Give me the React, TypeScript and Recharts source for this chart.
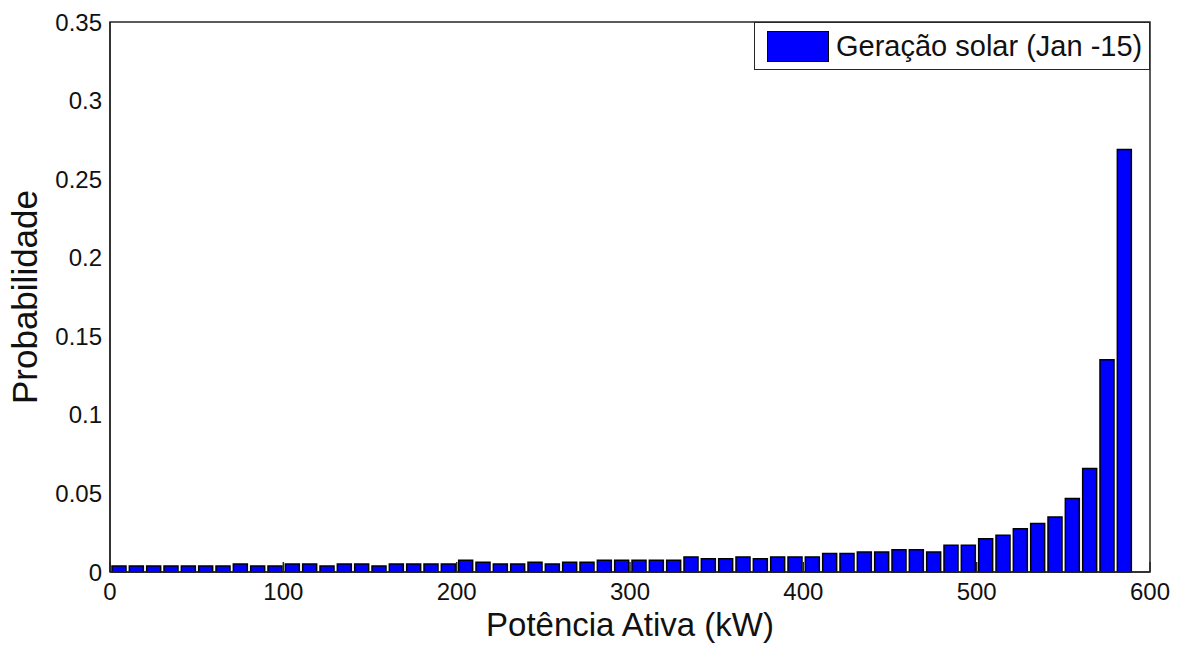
import { BarChart, Bar, XAxis, YAxis, ReferenceArea } from 'recharts';

// bin centres (kW)
const potencia = [
  5, 15, 25, 35, 45, 55, 65, 75, 85, 95,
  105, 115, 125, 135, 145, 155, 165, 175, 185, 195,
  205, 215, 225, 235, 245, 255, 265, 275, 285, 295,
  305, 315, 325, 335, 345, 355, 365, 375, 385, 395,
  405, 415, 425, 435, 445, 455, 465, 475, 485, 495,
  505, 515, 525, 535, 545, 555, 565, 575, 585,
];

const probabilidade = [
  0.0038, 0.0038, 0.0038, 0.0038, 0.0038, 0.0038, 0.0038, 0.0051, 0.0038, 0.0038,
  0.0051, 0.0051, 0.0038, 0.0051, 0.0051, 0.0038, 0.0051, 0.0051, 0.0051, 0.0051,
  0.0075, 0.0062, 0.0051, 0.0051, 0.0062, 0.0051, 0.0062, 0.0062, 0.0075, 0.0075,
  0.0075, 0.0075, 0.0075, 0.0096, 0.0085, 0.0085, 0.0096, 0.0085, 0.0096, 0.0096,
  0.0096, 0.0117, 0.0117, 0.0127, 0.0127, 0.0142, 0.0142, 0.0127, 0.017, 0.017,
  0.0212, 0.0234, 0.0276, 0.0308, 0.035, 0.0467, 0.0658, 0.135, 0.2688,
];

const xTicks = [0, 100, 200, 300, 400, 500, 600];
const yTicks = [0, 0.05, 0.1, 0.15, 0.2, 0.25, 0.3, 0.35];

const seriesName = 'Geração solar (Jan -15)';

const data = potencia.map((p, i) => ({ p, prob: probabilidade[i] }));

const FONT = '"Liberation Sans", Arial, sans-serif';
const AXIS = '#262626';

export default function App() {
  return (
    <div
      style={{
        position: 'absolute',
        left: 0,
        top: 0,
        width: 1183,
        height: 648,
        background: '#fff',
        fontFamily: FONT,
      }}
    >
      <BarChart
        width={1183}
        height={648}
        data={data}
        margin={{ top: 22, right: 33, bottom: 0, left: 0 }}
      >
        <XAxis
          dataKey="p"
          type="number"
          domain={[0, 600]}
          ticks={xTicks}
          height={76}
          stroke={AXIS}
          strokeWidth={1.5}
          tickSize={-10}
          tickMargin={21}
          tick={{ fontSize: 24, fill: '#111', fontFamily: FONT }}
          label={({ viewBox }: any) => (
            <text
              x={viewBox.x + viewBox.width / 2}
              y={636}
              textAnchor="middle"
              fontSize={33}
              fill="#111"
              fontFamily={FONT}
            >
              Potência Ativa (kW)
            </text>
          )}
        />
        <YAxis
          type="number"
          domain={[0, 0.35]}
          ticks={yTicks}
          width={110}
          stroke={AXIS}
          strokeWidth={1.5}
          tickLine={false}
          tick={{ fontSize: 24, fill: '#111', fontFamily: FONT }}
          label={({ viewBox }: any) => {
            const cy = viewBox.y + viewBox.height / 2;
            return (
              <text
                x={37}
                y={cy}
                transform={`rotate(-90, 37, ${cy})`}
                textAnchor="middle"
                fontSize={35}
                fill="#111"
                fontFamily={FONT}
              >
                Probabilidade
              </text>
            );
          }}
        />
        <Bar
          dataKey="prob"
          name={seriesName}
          fill="#0000ff"
          stroke="#000"
          strokeWidth={1.5}
          barSize={14}
          isAnimationActive={false}
        />
        <ReferenceArea
          x1={0}
          x2={600}
          y1={0}
          y2={0.35}
          fill="none"
          fillOpacity={0}
          stroke={AXIS}
          strokeWidth={1.5}
          ifOverflow="visible"
        />
      </BarChart>
      <div
        style={{
          position: 'absolute',
          left: 754,
          top: 22,
          width: 396,
          height: 48,
          boxSizing: 'border-box',
          border: `1.5px solid ${AXIS}`,
          background: '#fff',
          display: 'flex',
          alignItems: 'center',
        }}
      >
        <div
          style={{
            marginLeft: 12,
            width: 62,
            height: 31,
            boxSizing: 'border-box',
            background: '#0000ff',
            border: '1.5px solid #000',
          }}
        />
        <span style={{ marginLeft: 7, fontSize: 29, color: '#111', whiteSpace: 'nowrap' }}>
          {seriesName}
        </span>
      </div>
    </div>
  );
}
